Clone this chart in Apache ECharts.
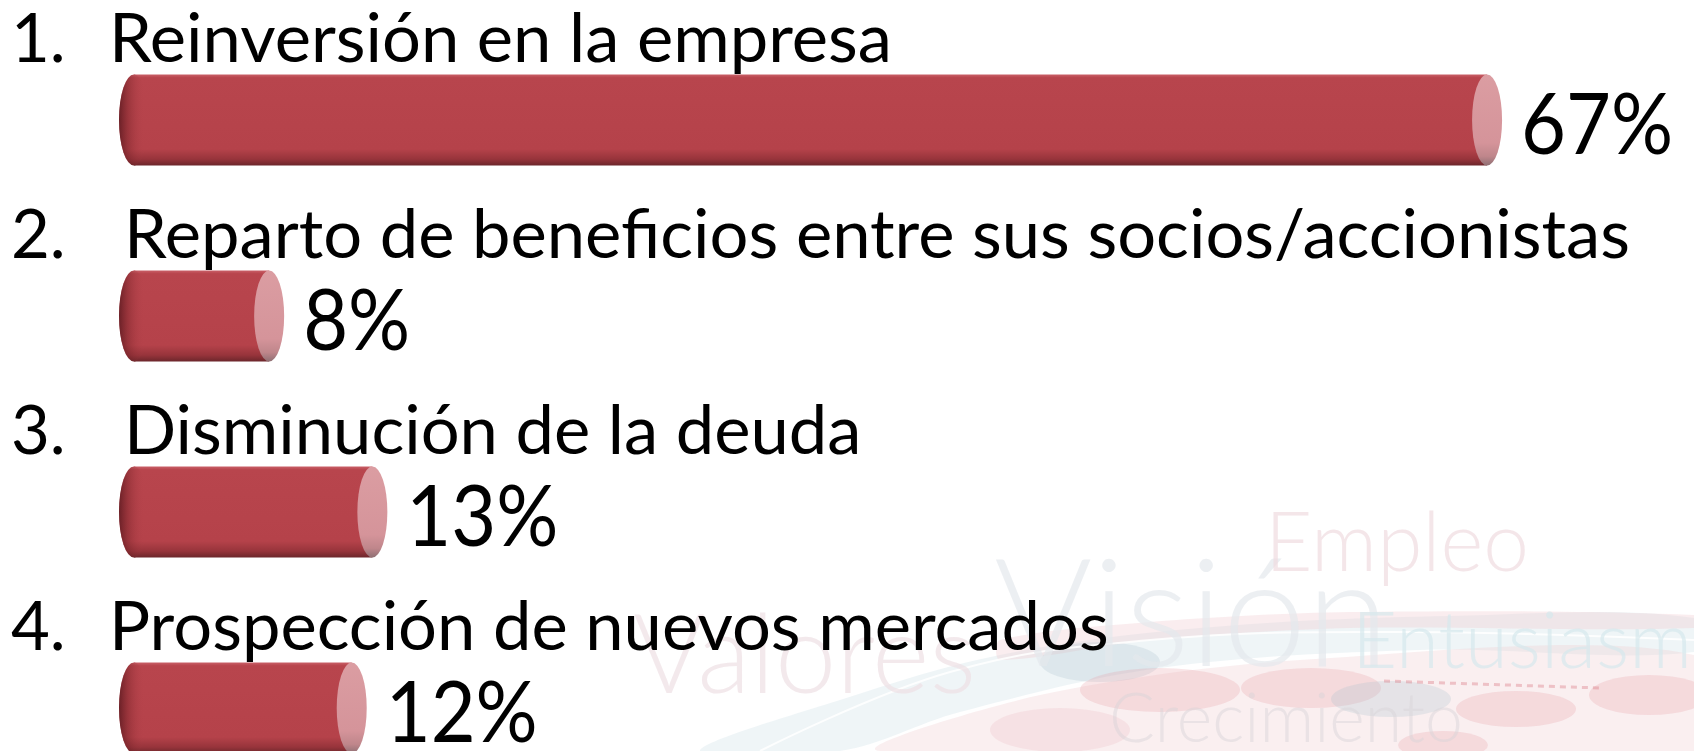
<!DOCTYPE html>
<html>
<head>
<meta charset="utf-8">
<script src="https://cdn.jsdelivr.net/npm/echarts@6/dist/echarts.min.js"></script>
<style>
html,body{margin:0;padding:0;background:#ffffff;}
#chart{width:1694px;height:751px;}
</style>
</head>
<body>
<div id="chart"></div>
<script>
// ---- data ----
const itemNumbers = ['1.', '2.', '3.', '4.'];
const categories = [
  'Reinversión en la empresa',
  'Reparto de beneficios entre sus socios/accionistas',
  'Disminución de la deuda',
  'Prospección de nuevos mercados'
];
const values = [67, 8, 13, 12];
const valueLabels = ['67%', '8%', '13%', '12%'];

// ---- styling / layout ----
const FONT = 'Lato, "Open Sans", "Noto Sans", sans-serif';
const titleIndent = [109, 124, 124, 109];
const measureCtx = document.createElement('canvas').getContext('2d');
function textWidth(text, size, weight) {
  measureCtx.font = (weight || 'normal') + ' ' + size + 'px ' + FONT;
  return measureCtx.measureText(text).width;
}
const TITLE_SIZE = 67;
const titleScale = 1506 / textWidth(categories[1], TITLE_SIZE);
const VALUE_SIZE = 85;
const valueScale = 152 / textWidth(valueLabels[0], VALUE_SIZE);

const BAR_H = 91;
const RX = 15;

function ellipseEl(cx, cy, rx, ry, style) {
  return {
    type: 'circle',
    shape: {cx: 0, cy: 0, r: ry},
    x: cx, y: cy,
    scaleX: rx / ry, scaleY: 1,
    style: style
  };
}

function renderItem(params, api) {
  const i = params.dataIndex;
  const v = api.value(0);
  const s = api.coord([0, i]);
  const e = api.coord([v, i]);
  const cy = s[1];
  const x0 = s[0], x1 = e[0];
  const top = cy - BAR_H / 2;
  const bodyStops = [
    {offset: 0, color: '#C96068'},
    {offset: 0.035, color: '#B8454D'},
    {offset: 0.82, color: '#B5424A'},
    {offset: 0.93, color: '#97343B'},
    {offset: 1, color: '#6C262B'}
  ];
  const leftShade = new echarts.graphic.LinearGradient(0, 0, 1, 0, [
    {offset: 0, color: 'rgba(75,18,24,0.7)'},
    {offset: 0.3, color: 'rgba(100,25,30,0.35)'},
    {offset: 0.85, color: 'rgba(181,66,74,0)'},
    {offset: 1, color: 'rgba(181,66,74,0)'}
  ]);
  const faceFill = new echarts.graphic.LinearGradient(0, 0, 0, 1, [
    {offset: 0, color: '#DB9DA2'},
    {offset: 0.75, color: '#D5949A'},
    {offset: 0.9, color: '#BF868B'},
    {offset: 1, color: '#8F6F73'}
  ]);
  return {
    type: 'group',
    children: [
      ellipseEl(x0 + RX, cy, RX, BAR_H / 2, {fill: new echarts.graphic.LinearGradient(0, 0, 0, 1, bodyStops)}),
      {type: 'rect', shape: {x: x0 + RX, y: top, width: Math.max(0, x1 - x0 - 2 * RX), height: BAR_H}, style: {fill: new echarts.graphic.LinearGradient(0, 0, 0, 1, bodyStops)}},
      ellipseEl(x0 + RX, cy, RX, BAR_H / 2, {fill: leftShade}),
      ellipseEl(x1 - RX, cy, RX, BAR_H / 2, {fill: faceFill}),
      {type: 'text', x: x1 + 19, y: cy + 7, scaleX: valueScale,
        style: {text: valueLabels[i], x: 0, y: 0, fontSize: VALUE_SIZE, fontFamily: FONT, fill: '#000', verticalAlign: 'middle', align: 'left'}},
      {type: 'text', style: {text: itemNumbers[i], x: 11, y: cy - 80, fontSize: TITLE_SIZE, fontFamily: FONT, fill: '#000', verticalAlign: 'middle', align: 'left'}},
      {type: 'text', x: titleIndent[i], y: cy - 80, scaleX: titleScale,
        style: {text: categories[i], x: 0, y: 0, fontSize: TITLE_SIZE, fontFamily: FONT, fill: '#000', verticalAlign: 'middle', align: 'left'}}
    ]
  };
}

// faint decorative background (watermark)
const blob = (cx, cy, rx, ry, fill) => ({type: 'circle', silent: true, z: -10, x: cx, y: cy, scaleX: rx / ry, shape: {cx: 0, cy: 0, r: ry}, style: {fill: fill}});
const PINK = 'rgba(228,150,158,0.24)';
const GREY = 'rgba(170,195,204,0.26)';
const wm = (text, x, y, size, fill) => ({type: 'text', silent: true, z: -5, style: {text: text, x: x, y: y, fontSize: size, fontFamily: FONT, fontWeight: 300, fill: fill, verticalAlign: 'middle'}});
const bgGraphics = [
  {type: 'polygon', silent: true, z: -10, shape: {points: [[700,751],[840,700],[1000,655],[1200,628],[1450,616],[1694,618],[1694,652],[1420,650],[1160,668],[960,712],[840,751]], smooth: 0.35}, style: {fill: 'rgba(205,225,230,0.32)'}},
  {type: 'polygon', silent: true, z: -10, shape: {points: [[880,751],[1040,695],[1300,660],[1694,655],[1694,751]], smooth: 0.3}, style: {fill: 'rgba(240,205,209,0.32)'}},
  {type: 'polygon', silent: true, z: -10, shape: {points: [[1000,640],[1150,622],[1350,612],[1694,615],[1694,628],[1350,628],[1150,640],[1000,660]], smooth: 0.3}, style: {fill: 'rgba(238,200,204,0.32)'}},
  blob(1100, 662, 60, 20, GREY),
  blob(1160, 690, 80, 22, PINK),
  blob(1311, 688, 70, 20, PINK),
  blob(1391, 699, 60, 18, GREY),
  blob(1516, 709, 60, 18, PINK),
  blob(1649, 695, 60, 20, PINK),
  blob(1443, 745, 45, 14, PINK),
  blob(1060, 730, 70, 22, 'rgba(228,150,158,0.15)'),
  {type: 'line', silent: true, z: -9, shape: {x1: 1384, y1: 681, x2: 1600, y2: 688}, style: {stroke: 'rgba(215,110,120,0.35)', lineWidth: 3, lineDash: [6, 5]}},
  {type: 'polyline', silent: true, z: -9, shape: {points: [[760,751],[950,672],[1150,640],[1400,632],[1694,640]], smooth: 0.4}, style: {stroke: 'rgba(255,255,255,0.85)', lineWidth: 2, fill: 'none'}},
  wm('Valores', 633, 658, 110, 'rgba(238,224,228,0.7)'),
  wm('Visión', 994, 618, 150, 'rgba(228,232,236,0.7)'),
  wm('Empleo', 1265, 545, 82, 'rgba(240,220,223,0.7)'),
  wm('Entusiasmo', 1352, 643, 78, 'rgba(214,232,236,0.7)'),
  wm('Crecimiento', 1109, 720, 68, 'rgba(215,210,214,0.45)')
];

const chart = echarts.init(document.getElementById('chart'), null, {renderer: 'canvas'});
chart.setOption({
  backgroundColor: '#ffffff',
  animation: false,
  graphic: bgGraphics,
  grid: {left: 119, top: 22, width: 1445, height: 784, containLabel: false, outerBoundsMode: 'none'},
  xAxis: {type: 'value', min: 0, max: 70, show: false},
  yAxis: {type: 'category', data: categories, inverse: true, show: false},
  series: [{
    type: 'custom',
    renderItem: renderItem,
    encode: {x: 0, y: 1},
    data: values.map((v, i) => [v, i]),
    clip: false
  }]
});
</script>
</body>
</html>
